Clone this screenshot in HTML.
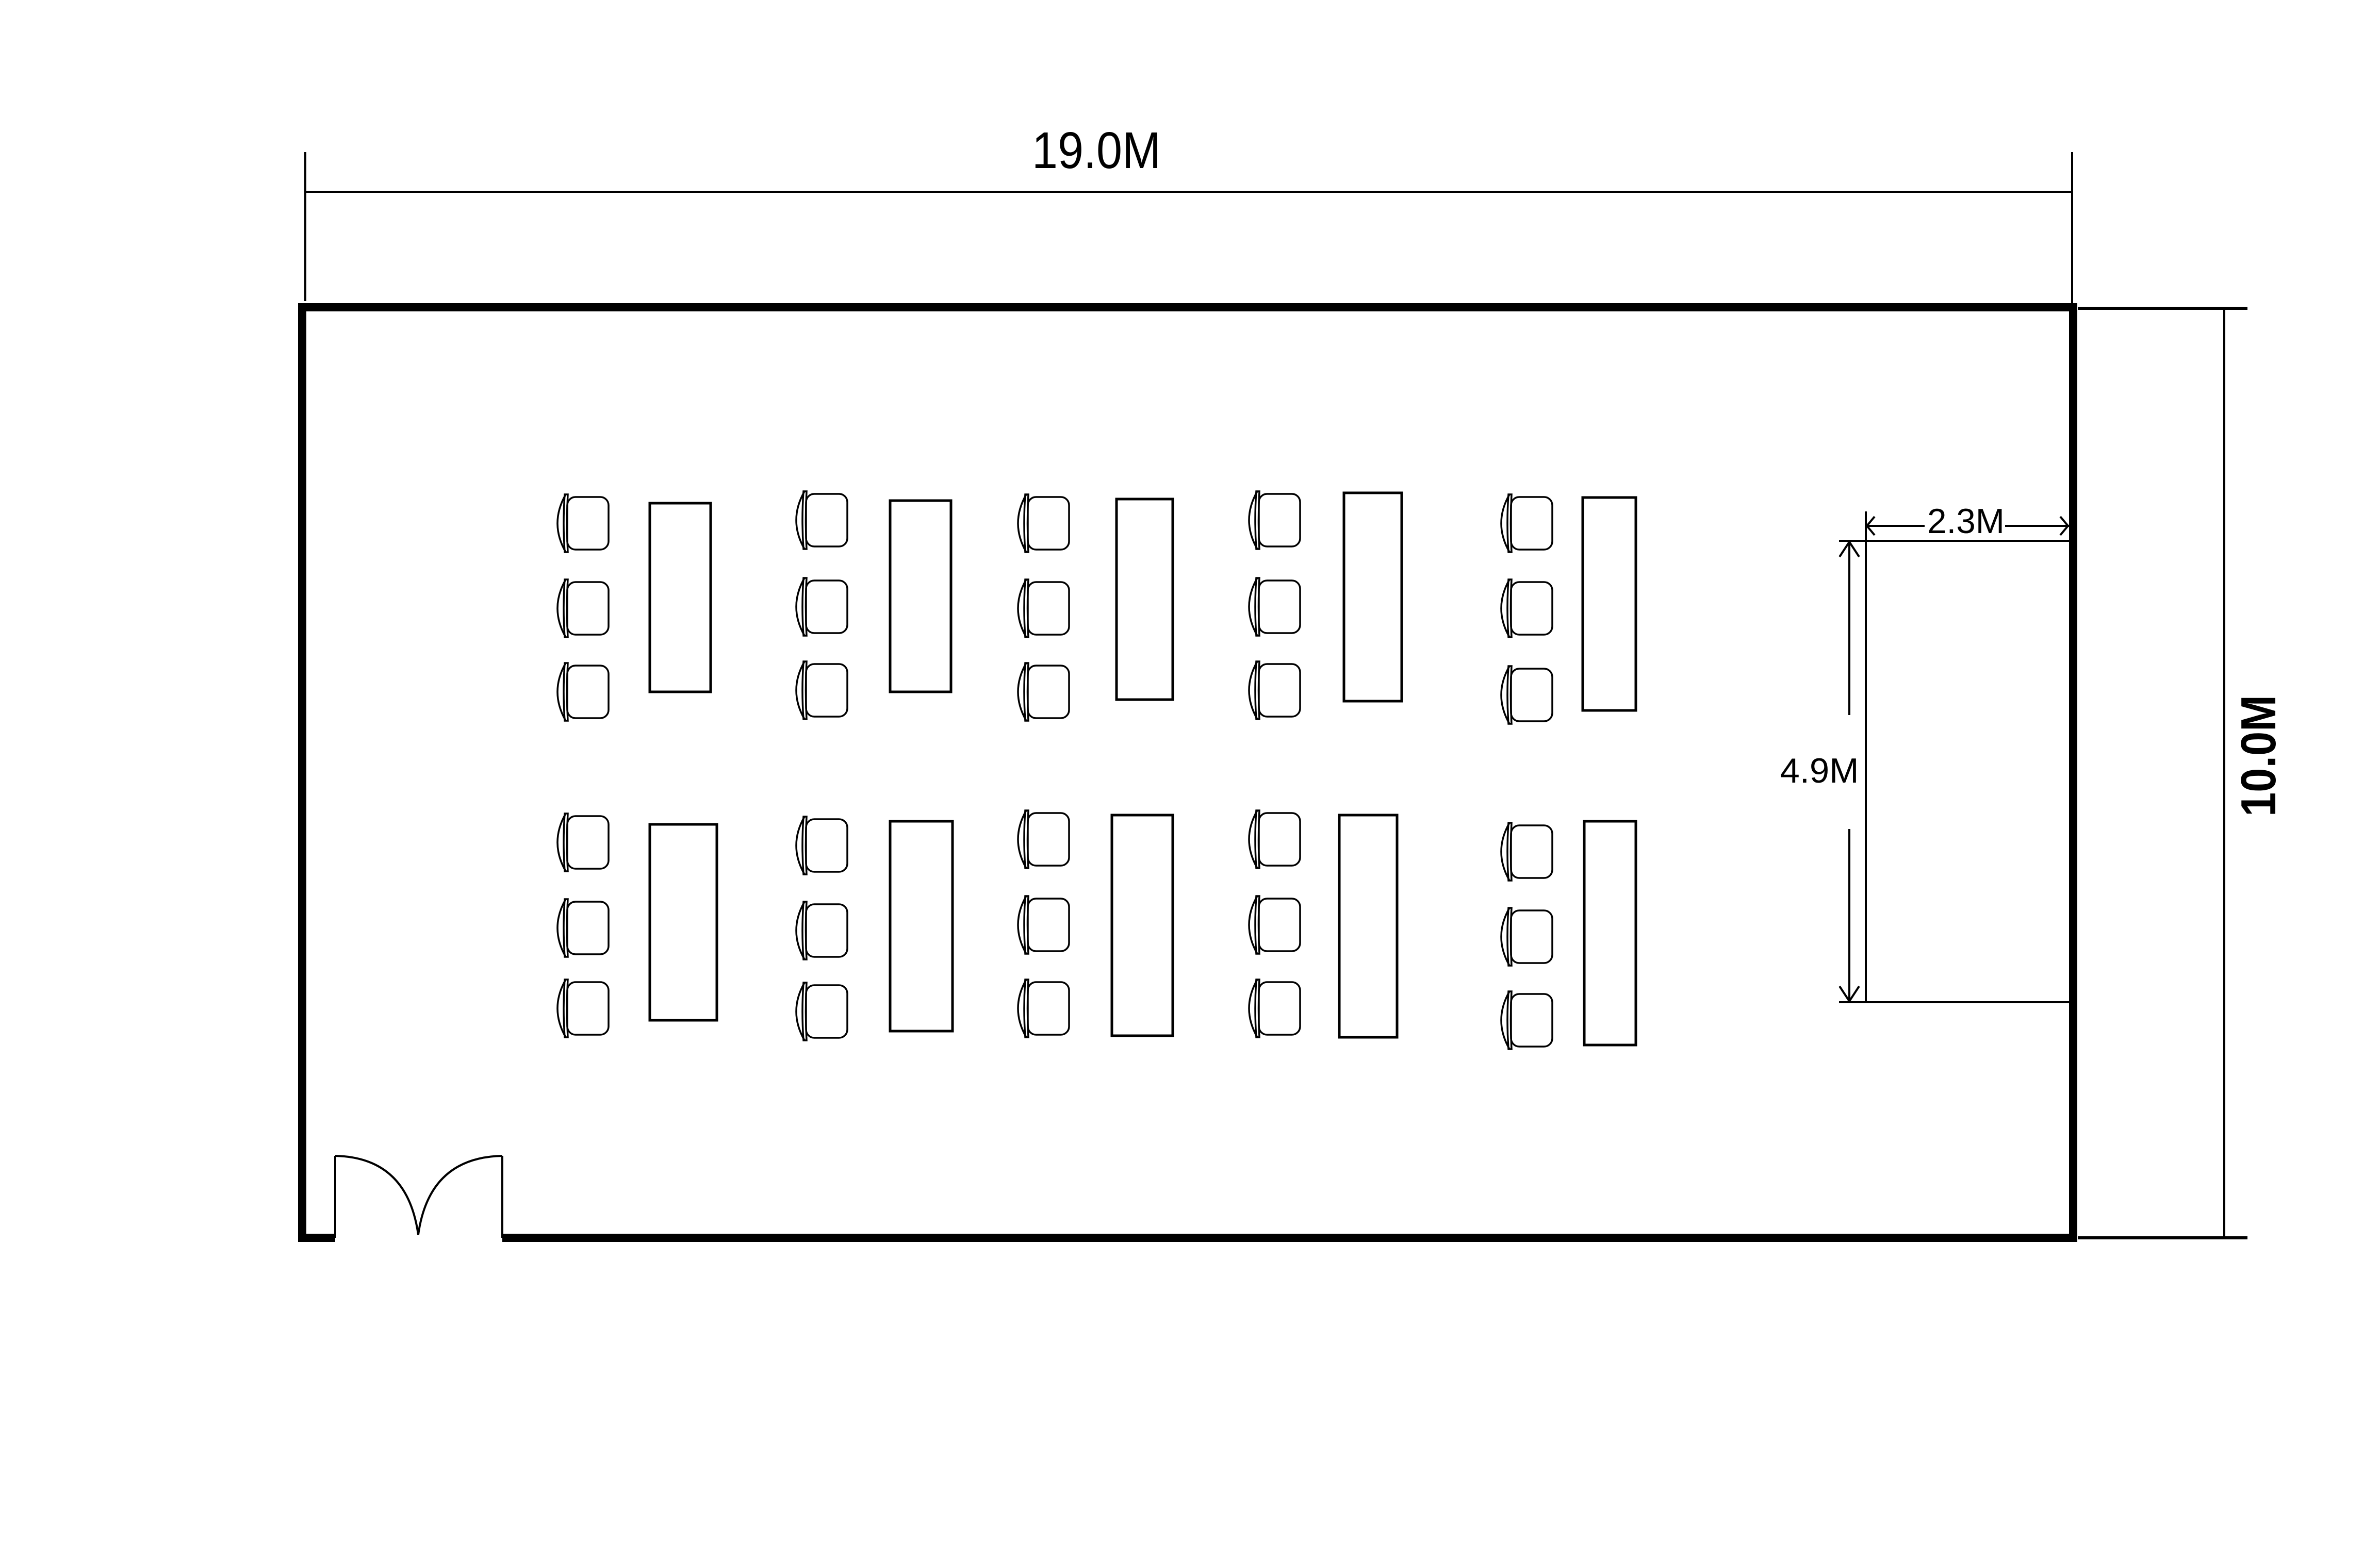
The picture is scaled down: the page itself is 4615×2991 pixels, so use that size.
<!DOCTYPE html>
<html><head><meta charset="utf-8"><style>html,body{margin:0;padding:0;background:#fff}svg{display:block}</style></head>
<body>
<svg width="4615" height="2991" viewBox="0 0 4615 2991" xmlns="http://www.w3.org/2000/svg">
<defs>
<g id="ch" fill="none" stroke="#000" stroke-width="3.5">
<rect x="23" y="5" width="80" height="102" rx="16"/>
<path d="M20,0 Q-12,56 20,112"/>
<path d="M18,0 Q14,56 18,112 L24,112 Q21,56 24,0 Z"/>
</g>
</defs>
<rect width="4615" height="2991" fill="#fff"/>
<!-- top dimension -->
<g stroke="#000" stroke-width="4">
<line x1="592" y1="372" x2="4018" y2="372"/>
<line x1="592" y1="295" x2="592" y2="584"/>
<line x1="4018" y1="295" x2="4018" y2="611"/>
<!-- right dimension -->
<line x1="4313" y1="598" x2="4313" y2="2401"/>
<line x1="4029" y1="598" x2="4358" y2="598" stroke-width="6"/>
<line x1="4029" y1="2401" x2="4358" y2="2401" stroke-width="6"/>
</g>
<text x="2126" y="326" font-family="Liberation Sans, sans-serif" font-size="100" textLength="250" lengthAdjust="spacingAndGlyphs" text-anchor="middle">19.0M</text>
<text transform="translate(4412,1466) rotate(-90)" font-family="Liberation Sans, sans-serif" font-size="96" font-weight="bold" textLength="236" lengthAdjust="spacingAndGlyphs" text-anchor="middle">10.0M</text>
<!-- room walls -->
<g stroke="#000" stroke-width="16" fill="none">
<polyline points="650,2401 586,2401 586,596 4020,596 4020,2401 974,2401"/>
</g>
<!-- door -->
<g stroke="#000" stroke-width="4" fill="none">
<line x1="650" y1="2401" x2="650" y2="2242"/>
<line x1="974" y1="2401" x2="974" y2="2242"/>
<path d="M650,2242 Q790,2245 811,2395"/>
<path d="M974,2242 Q832,2245 811,2395"/>
</g>
<!-- stage -->
<g stroke="#000" stroke-width="4" fill="none">
<line x1="3618" y1="1049" x2="4012" y2="1049"/>
<line x1="3618" y1="1944" x2="4012" y2="1944"/>
<line x1="3618" y1="992" x2="3618" y2="1944"/>
<line x1="3566" y1="1049" x2="3618" y2="1049"/>
<line x1="3566" y1="1944" x2="3618" y2="1944"/>
<line x1="3586" y1="1049" x2="3586" y2="1387"/>
<line x1="3586" y1="1608" x2="3586" y2="1944"/>
<polyline points="3567,1080 3586,1051 3605,1080"/>
<polyline points="3567,1913 3586,1942 3605,1913"/>
<line x1="3618" y1="1020" x2="3732" y2="1020"/>
<line x1="3888" y1="1020" x2="4012" y2="1020"/>
<polyline points="3635,1002 3620,1020 3635,1038"/>
<polyline points="3995,1002 4010,1020 3995,1038"/>
</g>
<text x="3812" y="1034" font-family="Liberation Sans, sans-serif" font-size="68" textLength="150" lengthAdjust="spacingAndGlyphs" text-anchor="middle">2.3M</text>
<text x="3528" y="1518" font-family="Liberation Sans, sans-serif" font-size="68" textLength="153" lengthAdjust="spacingAndGlyphs" text-anchor="middle">4.9M</text>
<!-- tables -->
<g stroke="#000" stroke-width="5" fill="none">
<rect x="1260" y="976" width="118" height="366"/>
<rect x="1726" y="971" width="118" height="371"/>
<rect x="2165" y="968" width="109" height="389"/>
<rect x="2606" y="956" width="112" height="404"/>
<rect x="3069" y="965" width="103" height="413"/>
<rect x="1260" y="1599" width="130" height="380"/>
<rect x="1726" y="1593" width="121" height="407"/>
<rect x="2156" y="1581" width="118" height="428"/>
<rect x="2597" y="1581" width="112" height="431"/>
<rect x="3072" y="1593" width="100" height="434"/>
</g>
<!-- chairs -->
<use href="#ch" x="1077" y="959"/><use href="#ch" x="1077" y="1124"/><use href="#ch" x="1077" y="1286"/>
<use href="#ch" x="1077" y="1578"/><use href="#ch" x="1077" y="1744"/><use href="#ch" x="1077" y="1900"/>
<use href="#ch" x="1540" y="953"/><use href="#ch" x="1540" y="1121"/><use href="#ch" x="1540" y="1283"/>
<use href="#ch" x="1540" y="1584"/><use href="#ch" x="1540" y="1749"/><use href="#ch" x="1540" y="1906"/>
<use href="#ch" x="1970" y="959"/><use href="#ch" x="1970" y="1124"/><use href="#ch" x="1970" y="1286"/>
<use href="#ch" x="1970" y="1572"/><use href="#ch" x="1970" y="1738"/><use href="#ch" x="1970" y="1900"/>
<use href="#ch" x="2418" y="953"/><use href="#ch" x="2418" y="1121"/><use href="#ch" x="2418" y="1283"/>
<use href="#ch" x="2418" y="1572"/><use href="#ch" x="2418" y="1738"/><use href="#ch" x="2418" y="1900"/>
<use href="#ch" x="2907" y="959"/><use href="#ch" x="2907" y="1124"/><use href="#ch" x="2907" y="1292"/>
<use href="#ch" x="2907" y="1596"/><use href="#ch" x="2907" y="1761"/><use href="#ch" x="2907" y="1923"/>
</svg>
</body></html>
